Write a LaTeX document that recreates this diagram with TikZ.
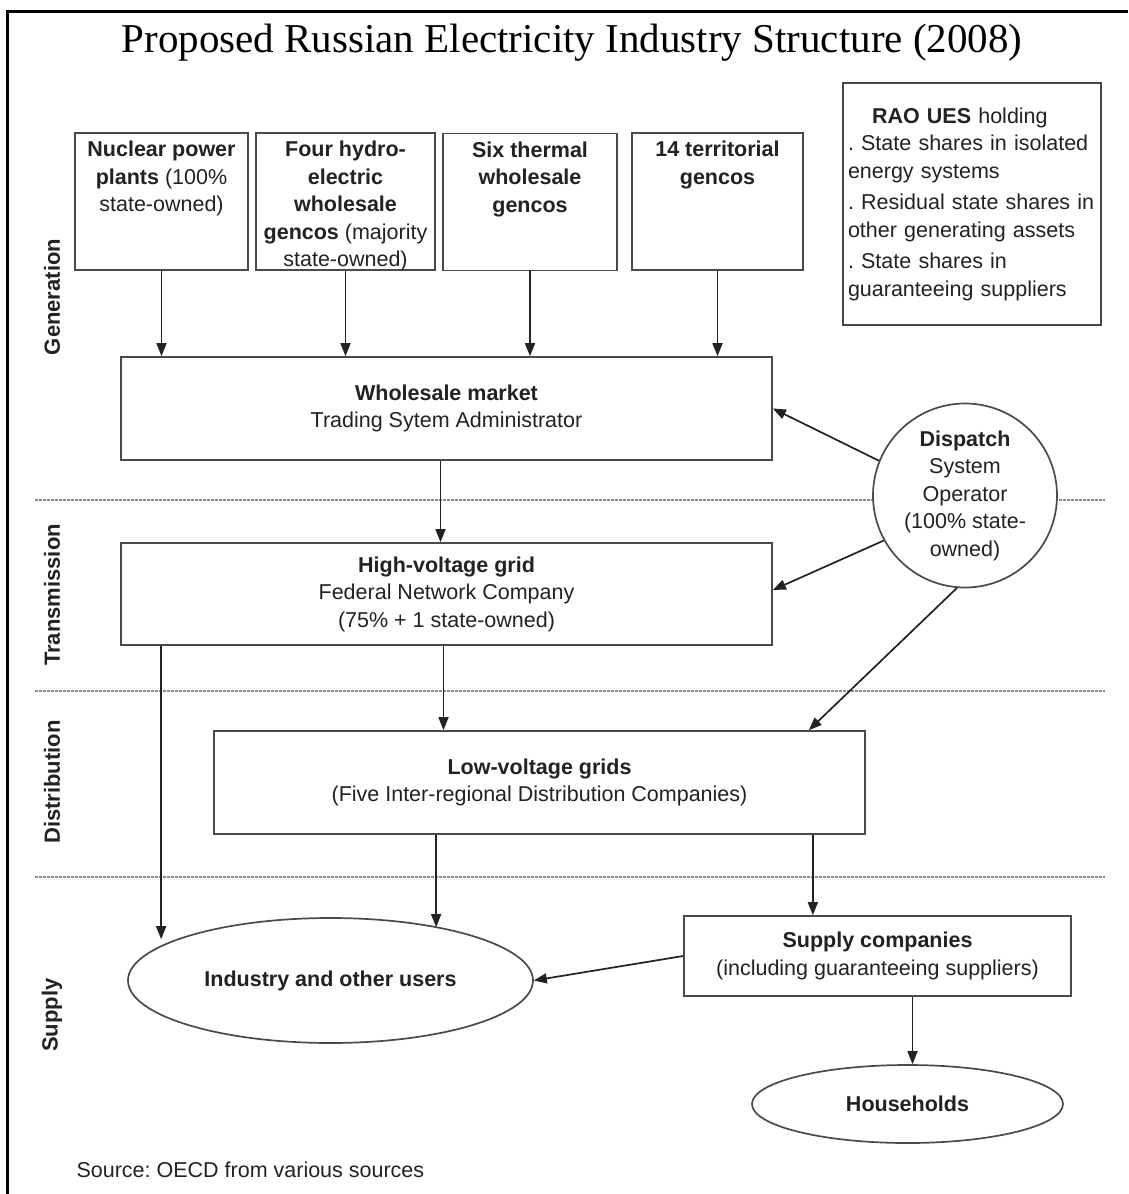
\documentclass[tikz,border=0pt]{standalone}
\usepackage{fontspec}
\setmainfont{Liberation Sans}
\newfontfamily\titlefont{Liberation Serif}
\usetikzlibrary{arrows.meta,calc,positioning,shapes.geometric}
\definecolor{Ink}{HTML}{222222}
\definecolor{Frame}{HTML}{4A4A4A}
\definecolor{Rule}{HTML}{8A8A8A}
\frenchspacing

\tikzset{
  every node/.style={font=\fontsize{21.5}{27.5}\selectfont,text=Ink},
  box/.style={draw=Frame,line width=1.7pt,fill=white,inner sep=0pt,align=center},
  flow/.style={-{Triangle[length=13pt,width=10pt]},draw=Ink,line width=1.7pt},
  layerrule/.style={draw=Rule,line width=1.3pt,dash pattern=on 3pt off 1pt},
  layerlabel/.style={rotate=90,font=\fontsize{22}{24}\selectfont\bfseries}
}
\newcommand{\genlines}[2]{\parbox[c][137pt][t]{#1}{\centering\vspace*{8pt}#2}}

\begin{document}
\begin{tikzpicture}[x=1pt,y=-1pt]
    \useasboundingbox (0,0) rectangle (1128,1194);
    \draw[line width=3pt] (7,1194) -- (7,11) -- (1128,11);

    \node[font=\titlefont\fontsize{41}{44}\selectfont,text=black] (title) at (572,43)
      {Proposed Russian Electricity Industry Structure (2008)};

    % layer rules and labels
    \draw[layerrule] (35,500) -- (1105,500);
    \draw[layerrule] (35,691) -- (1105,691);
    \draw[layerrule] (35,877) -- (1105,877);
    \node[layerlabel] (genlabel) at (52,297) {Generation};
    \node[layerlabel] (translabel) at (52,595) {Transmission};
    \node[layerlabel] (distlabel) at (52,782) {Distribution};
    \node[layerlabel] (supplylabel) at (52,1015) {Supply};

    % generation
    \node[box] (nuclear) at (161.5,201.5)
      {\genlines{173pt}{\textbf{Nuclear power}\\\textbf{plants} (100\%\\state-owned)}};
    \node[box] (hydro) at (345.5,201.5)
      {\genlines{179pt}{\textbf{Four hydro-}\\\textbf{electric}\\\textbf{wholesale}\\\textbf{gencos} (majority\\state-owned)}};
    \node[box] (thermal) at (530,202)
      {\genlines{174pt}{\textbf{Six thermal}\\\textbf{wholesale}\\\textbf{gencos}}};
    \node[box] (territorial) at (717.5,201.5)
      {\genlines{171pt}{\textbf{14 territorial}\\\textbf{gencos}}};

    \node[box,text width=248pt,minimum height=242pt,align=left,inner xsep=5pt] (rao) at (972,204)
      {\hspace*{24pt}\textbf{RAO UES} holding\\
       .~State shares in isolated\\energy systems\\[4pt]
       .~Residual state shares in\\other generating assets\\[4pt]
       .~State shares in\\guaranteeing suppliers};

    \node[box,minimum width=651pt,minimum height=103pt] (market) at (446.5,408.5)
      {\textbf{Wholesale market}\\Trading Sytem Administrator};

    \node[box,circle,minimum size=184pt] (dispatch) at (965,495.5)
      {\textbf{Dispatch}\\System\\Operator\\(100\% state-\\owned)};

    % transmission and distribution
    \node[box,minimum width=651pt,minimum height=102pt] (hv) at (446.5,594)
      {\textbf{High-voltage grid}\\Federal Network Company\\(75\% + 1 state-owned)};
    \node[box,minimum width=651pt,minimum height=103pt] (lv) at (539.5,782.5)
      {\textbf{Low-voltage grids}\\(Five Inter-regional Distribution Companies)};

    % supply
    \node[box,ellipse,minimum width=405pt,minimum height=125pt] (industry) at (330.5,980.5)
      {\textbf{Industry and other users}};
    \node[box,minimum width=387pt,minimum height=80pt] (supply) at (877.5,956)
      {\textbf{Supply companies}\\(including guaranteeing suppliers)};
    \node[box,ellipse,minimum width=311pt,minimum height=78pt] (households) at (907.5,1104)
      {\textbf{Households}};

    \node[anchor=west] (source) at (73,1170) {Source: OECD from various sources};

    % flows
    \foreach \gen in {nuclear,hydro,thermal,territorial}
      \draw[flow] (\gen.south) -- (\gen.south |- market.north);
    \draw[flow] ([xshift=-6pt]market.south) -- ([xshift=-6pt]market.south |- hv.north);
    \draw[flow] (dispatch.158) -- (market.east);
    \draw[flow] (dispatch.209) -- ([yshift=4pt]hv.east);
    \draw[flow] (dispatch.265) -- ([xshift=-57pt]lv.north east);
    \draw[flow] ([xshift=-3pt]hv.south) -- ([xshift=-3pt]hv.south |- lv.north);
    \draw[flow] ([xshift=41pt]hv.south west) -- ([xshift=41pt]hv.south west |- industry.165);
    \draw[flow] ([xshift=223pt]lv.south west) -- ([xshift=223pt]lv.south west |- industry.26);
    \draw[flow] ([xshift=-53pt]lv.south east) -- ([xshift=-53pt]lv.south east |- supply.north);
    \draw[flow] (supply.west) -- (industry.east);
    \draw[flow] ([xshift=35pt]supply.south) -- ([xshift=35pt]supply.south |- households.north);
  \end{tikzpicture}
\end{document}
